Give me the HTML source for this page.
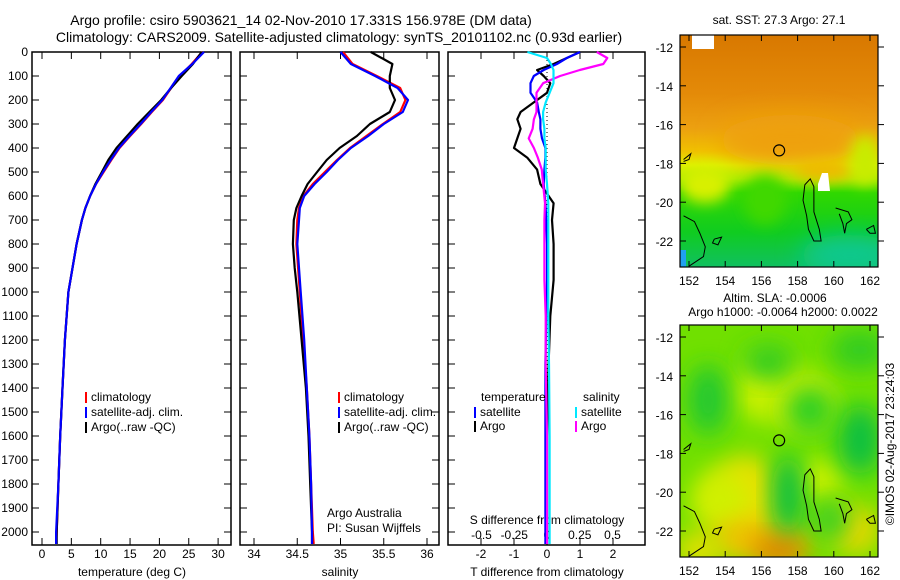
<!DOCTYPE html>
<html><head><meta charset="utf-8">
<style>
html,body{margin:0;padding:0;background:#fff;}
svg{display:block;font-family:"Liberation Sans",sans-serif;}
text{font-size:12px;fill:#000;}
.big{font-size:14px;}
</style></head>
<body>
<svg id="fig" width="900" height="580" viewBox="0 0 900 580" xmlns="http://www.w3.org/2000/svg">
<defs>
<filter id="blur6" x="-50%" y="-50%" width="200%" height="200%"><feGaussianBlur stdDeviation="7"/></filter>
<filter id="blur12" x="-50%" y="-50%" width="200%" height="200%"><feGaussianBlur stdDeviation="12"/></filter>
<clipPath id="clipTop"><rect x="680" y="35" width="198" height="232"/></clipPath>
<clipPath id="clipBot"><rect x="680" y="325" width="198" height="232"/></clipPath>
</defs>
<text class="big" x="301" y="25" text-anchor="middle">Argo profile: csiro 5903621_14 02-Nov-2010 17.331S 156.978E (DM data)</text>
<text class="big" x="339" y="42" text-anchor="middle">Climatology: CARS2009. Satellite-adjusted climatology: synTS_20101102.nc (0.93d earlier)</text>
<g id="g"></g>
</svg>
<script>
// ---- data ----
const depths = [0,50,100,150,200,250,300,350,400,450,500,550,600,650,700,800,900,1000,1200,1400,1600,1800,2000,2050];
const tempClim = [27.3,25.5,23.5,22.0,20.6,18.7,16.9,15.0,13.2,11.8,10.5,9.2,8.2,7.4,6.8,5.9,5.2,4.5,3.9,3.5,3.1,2.8,2.5,2.4];
const tempSat = [27.6,25.6,23.3,21.9,20.5,18.6,16.8,14.9,13.1,11.7,10.4,9.2,8.2,7.4,6.8,5.9,5.2,4.5,3.9,3.5,3.1,2.8,2.4,2.4];
const tempArgo = [27.2,25.7,23.8,22.0,20.3,18.3,16.3,14.5,12.7,11.3,10.2,9.1,8.2,7.4,6.8,5.9,5.2,4.5,3.9,3.5,3.1,2.8,2.5,2.5];
const salClim = [35.03,35.14,35.42,35.69,35.75,35.69,35.49,35.30,35.11,34.96,34.82,34.68,34.57,34.52,34.50,34.49,34.51,34.53,34.57,34.61,34.64,34.66,34.68,34.69];
const salSat = [35.00,35.12,35.40,35.66,35.78,35.72,35.50,35.32,35.12,34.97,34.84,34.70,34.58,34.53,34.52,34.50,34.52,34.54,34.58,34.61,34.64,34.66,34.67,34.67];
const salArgo = [35.35,35.60,35.57,35.57,35.63,35.57,35.34,35.19,34.99,34.84,34.73,34.62,34.55,34.49,34.46,34.45,34.47,34.50,34.55,34.60,34.63,34.65,34.67,34.67];
const diffDepths = [0,25,50,75,100,130,170,210,250,280,320,360,400,440,490,550,630,700,800,950,1100,1300,1600,2000,2050];
const tDiffArgo = [1.0,0.6,0.2,-0.3,-0.1,0.1,0.0,-0.4,-0.8,-0.9,-0.8,-0.9,-1.0,-0.6,-0.3,-0.2,0.2,0.15,0.2,0.2,0.1,0.05,0.0,0.0,0.0];
const tDiffSat = [1.0,0.6,0.3,-0.1,-0.4,-0.5,-0.5,-0.3,-0.25,-0.2,-0.2,-0.15,-0.05,-0.05,-0.08,-0.1,-0.05,-0.02,0,0,-0.02,-0.05,-0.05,-0.05,-0.05];
const sDiffArgo = [0.38,0.46,0.43,0.25,0.1,-0.03,-0.08,-0.08,-0.08,-0.1,-0.11,-0.14,-0.1,-0.07,-0.04,-0.03,-0.015,-0.02,-0.02,-0.02,-0.01,-0.01,0,0,0];
const sDiffSat = [-0.15,0,0.03,0.05,0.05,0.05,0.02,-0.01,-0.03,-0.03,-0.02,-0.02,-0.01,-0.01,-0.01,0.0,0.01,0.01,0.01,0.01,0.01,0.015,0.02,0.02,0.02];
const depthTicks = [0,100,200,300,400,500,600,700,800,900,1000,1100,1200,1300,1400,1500,1600,1700,1800,1900,2000];
const tempTicks = [0,5,10,15,20,25,30];
const salTicks = [34,34.5,35,35.5,36];
const tDiffTicks = [-2,-1,0,1,2];
const sDiffTicks = [-0.5,-0.25,0,0.25,0.5];
const sDiffTickLabels = ["-0.5","-0.25","0","0.25","0.5"];
const lonTicks = [152,154,156,158,160,162];
const latTicks = [-12,-14,-16,-18,-20,-22];

const NS='http://www.w3.org/2000/svg';
const g=document.getElementById('g');
function el(tag,attrs,parent){const e=document.createElementNS(NS,tag);for(const k in attrs)e.setAttribute(k,attrs[k]);(parent||g).appendChild(e);return e;}
function txt(x,y,s,anchor,parent){const t=el('text',{x:x,y:y,'text-anchor':anchor||'start'},parent);t.textContent=s;return t;}

const TOP=52,BOT=545;
const yD=d=>TOP+d*0.24;
const xT=v=>42+v*5.87;
const xS=v=>254+(v-34)*86.5;
const xTd=v=>547+v*33;
const xSd=v=>547+v*131;

function panel(x0,x1,name){
  const r=el('rect',{x:x0,y:TOP,width:x1-x0,height:BOT-TOP,fill:'none',stroke:'#000','stroke-width':1.5});
  
  
  depthTicks.forEach(d=>{el('line',{x1:x0,x2:x0+7,y1:yD(d),y2:yD(d),stroke:'#000'});el('line',{x1:x1,x2:x1-7,y1:yD(d),y2:yD(d),stroke:'#000'});});
}
function xticks(xs,fn){xs.forEach(v=>{const x=fn(v);el('line',{x1:x,x2:x,y1:BOT,y2:BOT-7,stroke:'#000'});el('line',{x1:x,x2:x,y1:TOP,y2:TOP+7,stroke:'#000'});});}
function line(xs,ds,fx,color,name){
  const p=el('polyline',{points:xs.map((v,i)=>fx(v).toFixed(1)+','+yD(ds[i]).toFixed(1)).join(' '),fill:'none',stroke:color,'stroke-width':2.2,'stroke-linejoin':'round'});
  
  
}

// Panel 1 temperature
panel(32,231,'temperature-panel');
depthTicks.forEach(d=>{const t=txt(28,yD(d)+4,String(d),'end');});
xticks(tempTicks,xT);
tempTicks.forEach(v=>{const t=txt(xT(v),558,String(v),'middle');});
const tt=txt(132,576,'temperature (deg C)','middle');
line(tempClim,depths,xT,'#ff0000','temperature-climatology-line');
line(tempArgo,depths,xT,'#000000','temperature-argo-line');
line(tempSat,depths,xT,'#0000ff','temperature-satellite-line');

// Panel 2 salinity
panel(240,439,'salinity-panel');
xticks(salTicks,xS);
salTicks.forEach(v=>{const t=txt(xS(v),558,String(v),'middle');});
const st=txt(340,576,'salinity','middle');
line(salClim,depths,xS,'#ff0000','salinity-climatology-line');
line(salArgo,depths,xS,'#000000','salinity-argo-line');
line(salSat,depths,xS,'#0000ff','salinity-satellite-line');

// Panel 3 differences
panel(448,645,'difference-panel');
xticks(tDiffTicks,xTd);
el('line',{x1:547,x2:547,y1:TOP,y2:BOT,stroke:'#000','stroke-dasharray':'1,3'});
tDiffTicks.forEach(v=>{const t=txt(xTd(v),558,String(v),'middle');});
sDiffTicks.forEach((v,i)=>{const t=txt(xSd(v),539,sDiffTickLabels[i],'middle');});
const sd=txt(547,524,'S difference from climatology','middle');
const td=txt(547,576,'T difference from climatology','middle');
line(tDiffArgo,diffDepths,xTd,'#000000','t-diff-argo-line');
line(tDiffSat,diffDepths,xTd,'#0000ff','t-diff-satellite-line');
line(sDiffArgo,diffDepths,xSd,'#ff00ff','s-diff-argo-line');
line(sDiffSat,diffDepths,xSd,'#00e8ff','s-diff-satellite-line');

function legend(x,y,color,label,name){
  const lg=el('g',{});
  
  
  el('rect',{x:x,y:y-9,width:2,height:11,fill:color},lg);
  txt(x+6,y,label,'start',lg);
}
legend(85,401,'#ff0000','climatology','legend-climatology');
legend(85,416,'#0000ff','satellite-adj. clim.','legend-satellite-adj');
legend(85,431,'#000000','Argo(..raw -QC)','legend-argo');
legend(338,401,'#ff0000','climatology','legend-sal-climatology');
legend(338,416,'#0000ff','satellite-adj. clim.','legend-sal-satellite-adj');
legend(338,431,'#000000','Argo(..raw -QC)','legend-sal-argo');
const lt=txt(481,401,'temperature');
const ls=txt(583,401,'salinity');
legend(474,416,'#0000ff','satellite','legend-t-satellite');
legend(474,430,'#000000','Argo','legend-t-argo');
legend(575,416,'#00e8ff','satellite','legend-s-satellite');
legend(575,430,'#ff00ff','Argo','legend-s-argo');
const aa=txt(327,517,'Argo Australia');
const pi=txt(327,532,'PI: Susan Wijffels');

// ---- maps ----
const lonX=l=>689+(l-152)*18.1;
function latY(lat,off){return off+12+(-12-lat)*19.4;}
function coast(off,gp){
  const pts=[[[158.4,-19.1],[158.7,-18.8],[158.9,-19.2],[158.9,-20.5],[159.2,-21.4],[159.3,-22.0],[158.9,-22.0],[158.6,-21.4],[158.5,-20.7],[158.3,-19.9],[158.4,-19.1]],
            [[160.1,-20.3],[160.8,-20.5],[161.0,-20.9],[160.7,-21.1],[160.6,-21.6],[160.5,-21.1],[160.3,-20.6]],
            [[151.7,-20.7],[152.3,-21.0],[152.6,-21.6],[152.9,-22.3],[152.8,-22.8],[152.0,-23.3]],
            [[151.7,-17.8],[152.1,-17.5],[152.0,-17.8],[151.7,-17.9]],
            [[153.4,-21.9],[153.8,-21.8],[153.6,-22.2],[153.3,-22.1],[153.4,-21.9]],
            [[161.8,-21.4],[162.2,-21.2],[162.3,-21.6],[162.0,-21.6],[161.8,-21.4]]];
  pts.forEach(p=>el('polyline',{points:p.map(q=>lonX(q[0])+','+latY(q[1],off)).join(' '),fill:'none',stroke:'#000','stroke-width':1},gp));
  const c=el('circle',{cx:lonX(156.98),cy:latY(-17.33,off),r:5.5,fill:'none',stroke:'#000','stroke-width':1.2},gp);
  
  
}
function mapAxes(off,name){
  const r=el('rect',{x:680,y:off,width:198,height:232,fill:'none',stroke:'#000','stroke-width':1.2});
  
  
  lonTicks.forEach(l=>{el('line',{x1:lonX(l),x2:lonX(l),y1:off+232,y2:off+226,stroke:'#000'});el('line',{x1:lonX(l),x2:lonX(l),y1:off,y2:off+6,stroke:'#000'});
    const t=txt(lonX(l),off+250,String(l),'middle');});
  latTicks.forEach(la=>{const y=latY(la,off);el('line',{x1:680,x2:686,y1:y,y2:y,stroke:'#000'});el('line',{x1:878,x2:884,y1:y,y2:y,stroke:'#000'});
    const t=txt(673,y+5,String(la),'end');});
}
// Top SST map
const gt=el('g',{'clip-path':'url(#clipTop)'});


const lgT=el('linearGradient',{id:'sstGrad',x1:0,y1:0,x2:0,y2:1},document.querySelector('defs'));
[[0,'#d87800'],[0.25,'#e48a08'],[0.4,'#eca010'],[0.5,'#f0c000'],[0.56,'#e0f000'],[0.62,'#a8ec00'],[0.68,'#30d800'],[0.85,'#10cc20'],[1,'#10c060']].forEach(s=>el('stop',{offset:s[0],'stop-color':s[1]},lgT));
el('rect',{x:680,y:35,width:198,height:232,fill:'url(#sstGrad)'},gt);
el('ellipse',{cx:790,cy:140,rx:70,ry:25,fill:'#eea010',filter:'url(#blur12)'},gt);
el('ellipse',{cx:765,cy:200,rx:22,ry:25,fill:'#40d800',filter:'url(#blur6)'},gt);
el('ellipse',{cx:705,cy:185,rx:25,ry:18,fill:'#d8f000',filter:'url(#blur6)'},gt);
el('ellipse',{cx:825,cy:170,rx:30,ry:10,fill:'#f0b800',filter:'url(#blur6)'},gt);
el('ellipse',{cx:850,cy:255,rx:50,ry:20,fill:'#10c890',filter:'url(#blur12)'},gt);
el('ellipse',{cx:865,cy:160,rx:15,ry:25,fill:'#c8ec00',filter:'url(#blur6)'},gt);
el('path',{d:'M818,184 L822,173 L828,173 L830,191 L818,191 Z',fill:'#fff'},gt);
el('rect',{x:692,y:35,width:22,height:14,fill:'#fff'},gt);
el('rect',{x:680,y:250,width:6,height:17,fill:'#20a0f0'},gt);
coast(35,gt);
mapAxes(35,'sst-map-frame');
const t1=txt(779,24,'sat. SST: 27.3 Argo: 27.1','middle');

// Bottom SLA map
const gb=el('g',{'clip-path':'url(#clipBot)'});


el('rect',{x:680,y:325,width:198,height:232,fill:'#70e000'},gb);
[[800,400,35,30,'#d8f000'],[760,390,25,30,'#c8f000'],[745,500,35,45,'#e8e000'],[720,500,30,30,'#d0f000'],[760,540,50,20,'#f0c000'],[780,550,28,14,'#e08000'],[700,550,25,20,'#e0e000'],[855,530,25,25,'#e8d800'],[820,480,25,20,'#c8f000']].forEach(e=>el('ellipse',{cx:e[0],cy:e[1],rx:e[2],ry:e[3],fill:e[4],filter:'url(#blur12)'},gb));
[[708,400,20,35,'#20c830'],[788,495,16,40,'#10c040'],[768,362,25,18,'#30cc20'],[860,440,22,35,'#10c040'],[810,410,25,25,'#30d020'],[860,350,30,20,'#30cc20'],[830,520,20,20,'#40d020']].forEach(e=>el('ellipse',{cx:e[0],cy:e[1],rx:e[2],ry:e[3],fill:e[4],filter:'url(#blur12)'},gb));
coast(325,gb);
mapAxes(325,'sla-map-frame');
const t2=txt(775,302,'Altim. SLA: -0.0006','middle');
const t3=txt(783,316,'Argo h1000: -0.0064 h2000: 0.0022','middle');
const ts=txt(0,0,'©IMOS 02-Aug-2017 23:24:03','middle');
ts.setAttribute('transform','translate(894,444) rotate(-90)');


</script>
</body></html>
